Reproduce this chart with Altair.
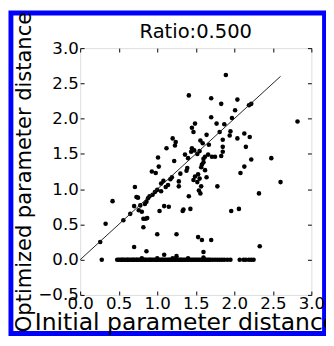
import altair as alt
import pandas as pd

# scattered points (initial distance, optimized distance)
pts_x = [1.41, 1.70, 1.89, 1.83, 2.04, 2.19, 2.22, 2.01, 1.70, 1.97,
         1.49, 1.45, 1.47, 1.77, 1.87, 2.82, 1.64, 1.81, 1.85, 1.94,
         1.95, 2.13, 2.20, 2.04, 1.56, 1.59, 1.20, 1.24, 1.23, 1.12,
         1.45, 1.48, 1.85, 1.85, 2.15, 1.66, 1.71, 1.75, 1.62, 1.36,
         1.40, 1.44, 1.60, 1.01, 1.22, 2.22, 2.48, 1.58, 1.57, 1.38,
         1.39, 1.02, 0.93, 0.98, 1.30, 1.53, 1.49, 1.47, 1.64, 1.19,
         1.28, 1.28, 2.13, 2.08, 2.60, 1.05, 1.11, 1.14, 1.57, 1.56,
         1.54, 1.78, 1.41, 1.05, 0.97, 0.94, 0.90, 0.86, 0.84, 0.71,
         0.73, 0.75, 0.70, 0.78, 0.80, 0.76, 0.42, 2.32, 1.33, 1.43,
         1.34, 1.15, 1.09, 1.03, 1.96, 2.06, 0.82, 0.85, 0.87, 0.82,
         0.65, 0.56, 0.33, 0.26, 1.00, 1.25, 1.53, 1.58, 1.70, 0.70,
         0.86, 1.09, 1.25, 1.60, 2.33, 0.28, 1.52, 1.55, 1.08, 1.17,
         1.62, 1.60, 0.88, 1.00, 1.55, 1.52, 1.83, 1.67]
pts_y = [2.33, 2.29, 2.62, 2.21, 2.27, 2.19, 2.21, 2.12, 2.02, 2.01,
         1.93, 1.87, 1.81, 1.93, 1.92, 1.96, 1.77, 1.81, 1.70, 1.76,
         1.82, 1.79, 1.74, 1.72, 1.69, 1.65, 1.72, 1.67, 1.62, 1.58,
         1.58, 1.55, 1.60, 1.53, 1.60, 1.49, 1.46, 1.46, 1.46, 1.49,
         1.44, 1.53, 1.43, 1.45, 1.40, 1.42, 1.44, 1.35, 1.31, 1.26,
         1.30, 1.32, 1.25, 1.23, 1.22, 1.21, 1.18, 1.13, 1.17, 1.17,
         1.11, 1.04, 1.32, 1.23, 1.10, 1.08, 1.03, 1.06, 1.04, 0.94,
         0.98, 1.04, 0.90, 0.97, 0.96, 0.92, 0.90, 0.82, 0.79, 1.03,
         0.89, 0.88, 0.76, 0.77, 0.68, 0.70, 0.83, 0.94, 0.69, 0.72,
         0.71, 0.75, 0.76, 0.69, 0.69, 0.72, 0.58, 0.58, 0.59, 0.46,
         0.65, 0.56, 0.51, 0.25, 0.36, 0.36, 0.32, 0.28, 0.28, 0.18,
         0.12, 0.07, 0.05, 0.11, 0.19, 0.00, 1.10, 1.15, 1.12, 1.14,
         1.27, 1.38, 0.87, 0.99, 1.54, 1.50, 1.47, 1.63]

# points lying on (or very near) zero
zero_x = [0.48, 0.50, 0.52, 0.54, 0.55, 0.57, 0.59, 0.61, 0.62, 0.64,
          0.66, 0.68, 0.69, 0.71, 0.73, 0.74, 0.76, 0.78, 0.79, 0.81,
          0.83, 0.84, 0.86, 0.88, 0.90, 0.91, 0.93, 0.95, 0.97, 0.99,
          1.00, 1.02, 1.04, 1.06, 1.07, 1.09, 1.11, 1.13, 1.15, 1.16,
          1.18, 1.20, 1.22, 1.24, 1.26, 1.28, 1.30, 1.31, 1.33, 1.35,
          1.37, 1.39, 1.41, 1.43, 1.45, 1.47, 1.49, 1.51, 1.53, 1.55,
          1.57, 1.59, 1.61, 1.63, 1.65, 1.67, 1.69, 1.72, 1.75, 1.78,
          1.81, 1.84, 1.87, 1.91, 1.95, 2.07, 2.12, 2.15, 2.19, 2.22,
          2.25, 0.80, 1.00, 1.20, 1.40, 1.60]
zero_y = [0.00, 0.00, 0.00, 0.00, 0.00, 0.00, 0.00, 0.00, 0.00, 0.00,
          0.00, 0.00, 0.00, 0.00, 0.00, 0.00, 0.00, 0.00, 0.00, 0.00,
          0.00, 0.00, 0.00, 0.00, 0.00, 0.00, 0.00, 0.00, 0.00, 0.00,
          0.00, 0.00, 0.00, 0.00, 0.00, 0.00, 0.00, 0.00, 0.00, 0.00,
          0.00, 0.00, 0.00, 0.00, 0.00, 0.00, 0.00, 0.00, 0.00, 0.00,
          0.00, 0.00, 0.00, 0.00, 0.00, 0.00, 0.00, 0.00, 0.00, 0.00,
          0.00, 0.00, 0.00, 0.00, 0.00, 0.00, 0.00, 0.00, 0.00, 0.00,
          0.00, 0.00, 0.00, 0.00, 0.00, 0.00, 0.00, 0.00, 0.00, 0.00,
          0.00, 0.02, 0.02, 0.02, 0.02, 0.03]

# identity reference line
line_x = [0.0, 2.6]
line_y = [0.0, 2.6]

x_ticks = [0.0, 0.5, 1.0, 1.5, 2.0, 2.5, 3.0]
y_ticks = [-0.5, 0.0, 0.5, 1.0, 1.5, 2.0, 2.5, 3.0]

pts = pd.DataFrame({"x": pts_x + zero_x, "y": pts_y + zero_y})
line = pd.DataFrame({"x": line_x, "y": line_y})

FONT = "DejaVu Sans"
xs = alt.Scale(domain=[0, 3], nice=False, zero=False)
ys = alt.Scale(domain=[-0.5, 3.0], nice=False, zero=False)

lab_x = alt.Axis(values=x_ticks, format=".1f", ticks=False, domain=False, grid=False,
                 labelFontSize=17, labelFont=FONT, labelColor="black", labelPadding=1,
                 labelFlush=False, title="Initial parameter distance", titleFont=FONT,
                 titleFontSize=24, titleFontWeight="normal", titleColor="black",
                 titleAlign="left", titleBaseline="alphabetic", titleX=-47, titleY=35,
                 zindex=1)
lab_y = alt.Axis(values=y_ticks, format=".1f", ticks=False, domain=False, grid=False,
                 labelFontSize=17, labelFont=FONT, labelColor="black", labelPadding=2,
                 labelFlush=False, title="Optimized parameter distance", titleFont=FONT,
                 titleFontSize=21.5, titleFontWeight="normal", titleColor="black",
                 titleAngle=270, titleAlign="center", titleBaseline="alphabetic",
                 titleX=-51, titleY=126.5, zindex=1)


def tick_axis(vals, orient):
    return alt.Axis(values=vals, orient=orient, labels=False, domain=False, grid=False,
                    ticks=True, tickSize=4, tickColor="black", tickWidth=1,
                    offset=-4, title=None, zindex=1)


points = alt.Chart(pts).mark_circle(size=22, color="black", opacity=1).encode(
    x=alt.X("x:Q", scale=xs, axis=lab_x),
    y=alt.Y("y:Q", scale=ys, axis=lab_y),
)

ref = alt.Chart(line).mark_line(color="#222222", strokeWidth=1).encode(
    x=alt.X("x:Q", scale=xs, axis=tick_axis(x_ticks, "bottom")),
    y=alt.Y("y:Q", scale=ys, axis=tick_axis(y_ticks, "left")),
)

ticks2 = alt.Chart(line).mark_line(opacity=0).encode(
    x=alt.X("x:Q", scale=xs, axis=tick_axis(x_ticks, "top")),
    y=alt.Y("y:Q", scale=ys, axis=tick_axis(y_ticks, "right")),
)

frame = alt.Chart(pd.DataFrame({"a": [0]})).mark_rect(
    fill="transparent", stroke="#0000ff", strokeWidth=5
).encode(
    x=alt.value(-71), x2=alt.value(250.5), y=alt.value(-36), y2=alt.value(292.5)
)

chart = alt.layer(points, ref, ticks2, frame).resolve_axis(
    x="independent", y="independent"
).properties(
    width=237, height=253,
    title=alt.TitleParams("Ratio:0.500", font=FONT, fontSize=20, fontWeight="normal",
                          color="black", anchor="middle", frame="group",
                          baseline="alphabetic", offset=-48, zindex=1),
    autosize=alt.AutoSizeParams(type="none"),
    padding={"left": 74, "top": 37, "right": 15, "bottom": 40},
).configure_view(stroke="black", strokeWidth=1).configure(background="white")

chart.save("out.html", embed_options={"renderer": "svg", "actions": False})
